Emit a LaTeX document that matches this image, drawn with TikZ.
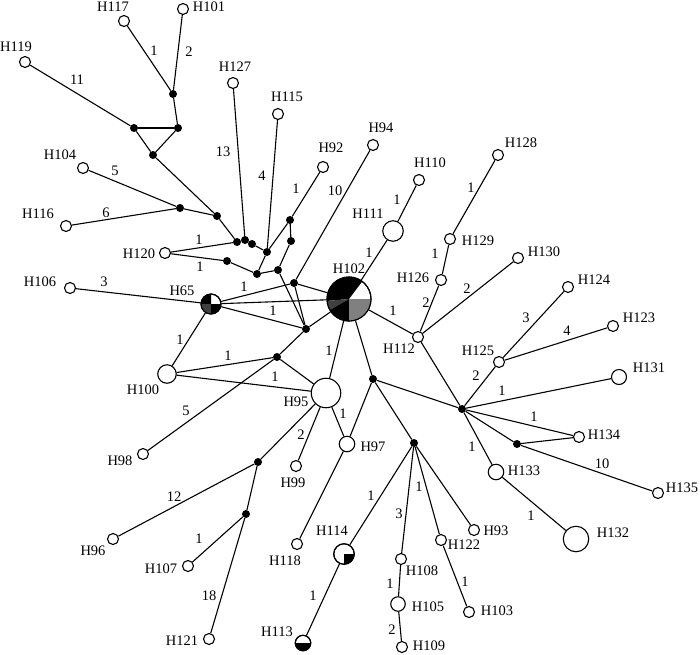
\documentclass[tikz,border=0pt]{standalone}
\usepackage{fontspec}
\setmainfont{Liberation Serif}
\newcommand{\pieseg}[5]{\fill[#5] (#1.center) -- ++(#3:#2) arc[start angle=#3, end angle=#4, radius=#2] -- cycle;}
\begin{document}
\begin{tikzpicture}[x=1pt,y=-1pt,
  hap/.style={circle,draw,fill=white,line width=1.1pt,inner sep=0pt,minimum size=#1},
  hap/.default=11pt,
  mv/.style={circle,fill=black,inner sep=0pt,minimum size=8pt},
  lbl/.style={inner sep=0pt,font=\fontsize{14.5}{16}\selectfont},
  edge/.style={line width=1.1pt},
  outl/.style={line width=1.1pt}]
\useasboundingbox (0,0) rectangle (700,654);
\definecolor{dgray}{gray}{0.25}
\definecolor{mgray}{gray}{0.5}
% haplotypes
\node[hap] (H117) at (124,21) {};
\node[hap] (H101) at (183,9) {};
\node[hap] (H119) at (25,62) {};
\node[hap] (H127) at (233,83) {};
\node[hap] (H115) at (278,114) {};
\node[hap] (H92) at (323,167) {};
\node[hap] (H94) at (373,145) {};
\node[hap] (H104) at (83,168) {};
\node[hap] (H116) at (66,226) {};
\node[hap] (H120) at (165,253) {};
\node[hap] (H106) at (70,288) {};
\node[hap=20pt] (H65) at (211,304) {};
\node[hap=18.5pt] (H100) at (167,374) {};
\node[hap] (H98) at (143,454) {};
\node[hap=44pt] (H102) at (349,299) {};
\node[hap=20.5pt] (H111) at (393,231) {};
\node[hap] (H110) at (419,180) {};
\node[hap] (H128) at (498,155) {};
\node[hap] (H129) at (450,239) {};
\node[hap] (H126) at (441,280) {};
\node[hap] (H130) at (518,258) {};
\node[hap] (H112) at (418,337) {};
\node[hap] (H124) at (568,287) {};
\node[hap] (H125) at (499,362) {};
\node[hap] (H123) at (613,326) {};
\node[hap=15pt] (H131) at (619,377) {};
\node[hap] (H134) at (579,437) {};
\node[hap] (H135) at (658,493) {};
\node[hap=15.5pt] (H133) at (496,472) {};
\node[hap=25.5pt] (H132) at (576,539) {};
\node[hap=29.5pt] (H95) at (326,393) {};
\node[hap=15.5pt] (H97) at (347,444) {};
\node[hap] (H99) at (296,466) {};
\node[hap] (H118) at (297,544) {};
\node[hap] (H96) at (113,539) {};
\node[hap] (H107) at (188,566) {};
\node[hap] (H121) at (209,639) {};
\node[hap] (H93) at (474,530) {};
\node[hap] (H122) at (441,540) {};
\node[hap] (H103) at (469,612) {};
\node[hap] (H108) at (401,559) {};
\node[hap=14.5pt] (H105) at (398,604) {};
\node[hap] (H109) at (402,647) {};
\node[hap=20.5pt] (H114) at (344,554) {};
\node[hap=15.5pt] (H113) at (303,643) {};
% median vectors
\node[mv] (m1) at (173,94) {};
\node[mv] (m2) at (134,128) {};
\node[mv] (m3) at (178,128) {};
\node[mv] (m4) at (153,155) {};
\node[mv] (m5) at (180,208) {};
\node[mv] (m6) at (217,216) {};
\node[mv] (m7) at (237,242) {};
\node[mv] (m8) at (245,240) {};
\node[mv] (m9) at (252,244) {};
\node[mv] (m10) at (267,252) {};
\node[mv] (m11) at (290,220) {};
\node[mv] (m12) at (291,241) {};
\node[mv] (m13) at (227,261) {};
\node[mv] (m14) at (257,274) {};
\node[mv] (m15) at (278,270) {};
\node[mv] (m16) at (294,283) {};
\node[mv] (m17) at (306,329) {};
\node[mv] (m18) at (277,357) {};
\node[mv] (m19) at (258,462) {};
\node[mv] (m20) at (246,514) {};
\node[mv] (m21) at (373,379) {};
\node[mv] (m22) at (414,443) {};
\node[mv] (m23) at (462,409) {};
\node[mv] (m24) at (517,444) {};
% edges
\foreach \a/\b in {H117/m1,H101/m1,m1/m3,m2/m3,m3/m4,m2/m4,H119/m2,m4/m6,
  H104/m5,H116/m5,m5/m6,m6/m7,H120/m7,H120/m13,m7/m8,m8/m9,m9/m10,H127/m8,
  H115/m10,H92/m11,m11/m10,m11/m12,m12/m15,m10/m14,m13/m14,m14/m15,m15/m17,
  m16/m17,H94/m16,m16/H102,H65/m16,H65/H102,H65/m17,m17/H102,H106/H65,
  H65/H100,H100/m18,H100/H95,m18/H95,m18/m17,H98/m18,H102/H111,H111/H110,
  H102/H112,H102/H95,H102/m21,H95/H97,m21/H97,H95/H99,H95/m19,m19/H96,
  m19/m20,m20/H107,m20/H121,H97/H118,m21/m22,m21/m23,H112/m23,H112/H126,
  H126/H129,H129/H128,H112/H130,m23/H125,H125/H124,H125/H123,m23/H131,
  m23/H134,m23/m24,m24/H134,m24/H135,m23/H133,H133/H132,m22/H114,H114/H113,
  m22/H108,H108/H105,H105/H109,m22/H122,H122/H103,m22/H93}
  \draw[edge] (\a) -- (\b);
% pies
\pieseg{H102}{22pt}{53}{185}{black}
\pieseg{H102}{22pt}{185}{210}{dgray}
\pieseg{H102}{22pt}{210}{270}{black}
\pieseg{H102}{22pt}{270}{360}{mgray}
\draw[outl] (H102.center) circle[radius=22pt];
\pieseg{H65}{10pt}{90}{180}{black}
\pieseg{H65}{10pt}{180}{270}{dgray}
\pieseg{H65}{10pt}{270}{360}{black}
\draw[outl] (H65.center) circle[radius=10pt];
\pieseg{H114}{10.25pt}{270}{360}{black}
\draw[outl] (H114.center) circle[radius=10.25pt];
\pieseg{H113}{7.75pt}{180}{360}{black}
\draw[outl] (H113.center) circle[radius=7.75pt];
% haplotype labels
\foreach \n/\x/\y in {H117/113/7,H101/209/7,H119/16/47,H127/235/67,H115/287/97,
  H92/331/148,H94/381/128,H104/60/155,H116/38/214,H120/139/254,H106/40/282,
  H65/182/291,H100/143/390,H98/120/461,H102/349/269,H111/368/214,H110/430/163,
  H128/521/143,H129/478/241,H126/413/278,H130/544/252,H124/594/280,H123/639/318,
  H112/399/349,H125/478/351,H131/649/368,H134/604/435,H135/682/488,H133/524/471,
  H132/613/533,H97/373/447,H95/296/402,H99/293/483,H93/496/531,H122/464/545,
  H114/332/531,H108/422/571,H105/428/607,H109/429/646,H103/497/611,H113/277/632,
  H118/285/561,H96/93/551,H107/161/569,H121/182/641}
  \node[lbl] (t\n) at (\x,\y) {\n};
% mutation counts
\foreach \i/\t/\x/\y in {1/1/154/51,2/2/189/52,3/11/77/80,4/13/223/152,5/4/262/176,
  6/1/296/189,7/10/335/191,8/5/115/171,9/6/106/213,10/1/199/240,11/1/200/267,
  12/3/104/282,13/1/244/287,14/1/273/311,15/1/180/340,16/1/228/356,17/1/275/377,
  18/5/186/411,19/1/369/253,20/1/397/200,21/1/393/311,22/1/329/351,23/1/343/414,
  24/2/301/435,25/12/174/497,26/1/199/539,27/18/209/596,28/1/371/496,29/3/399/514,
  30/1/419/487,31/1/313/596,32/1/390/584,33/2/392/630,34/1/465/582,35/1/472/447,
  36/1/531/516,37/10/602/464,38/1/534/417,39/1/502/391,40/2/476/376,41/3/526/318,
  42/4/567/331,43/2/467/289,44/2/426/303,45/1/435/254,46/1/471/188}
  \node[lbl] (n\i) at (\x,\y) {\t};
\end{tikzpicture}
\end{document}
